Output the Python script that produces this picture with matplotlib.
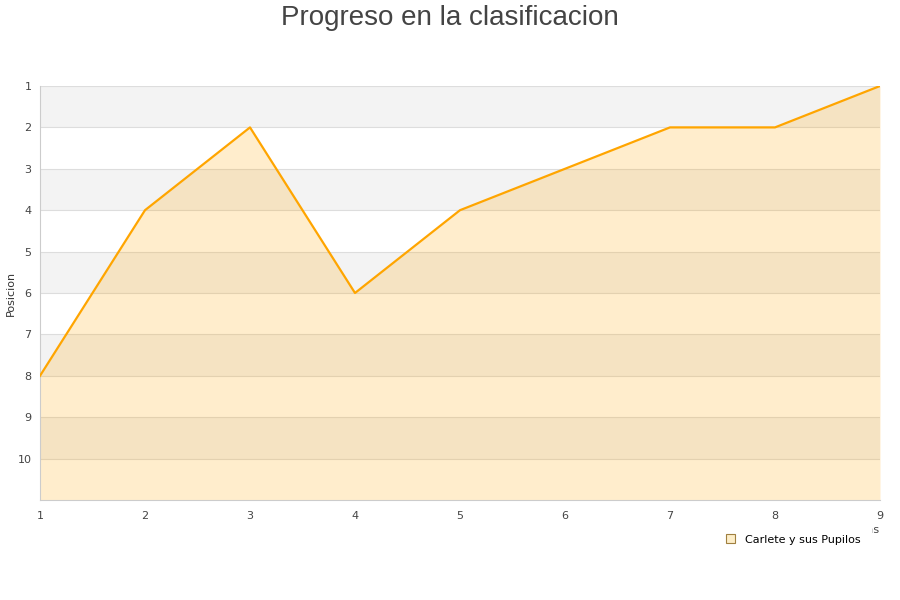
import matplotlib.pyplot as plt
from matplotlib.patches import Patch

jornadas = [1, 2, 3, 4, 5, 6, 7, 8, 9]
posicion = [8, 4, 2, 6, 4, 3, 2, 2, 1]
equipo = 'Carlete y sus Pupilos'

fig = plt.figure(figsize=(9, 6), dpi=100)
ax = fig.add_axes([40/900, 1-500/600, 840/900, 414/600])

# alternating bands
for y0 in range(1, 11, 2):
    ax.axhspan(y0, y0+1, color='#f3f3f3', zorder=0, lw=0)
for y in range(1, 11):
    ax.axhline(y, color='#dddddd', lw=0.8, zorder=1)

ax.fill_between(jornadas, posicion, 11, color='#ffa500', alpha=0.2, lw=0, zorder=2)
ax.plot(jornadas, posicion, color='#ffa500', lw=1.6, zorder=3)

ax.set_xlim(1, 9)
ax.set_ylim(11, 1)
ax.set_yticks(range(1, 11))
ax.set_xticks(jornadas)
ax.tick_params(axis='y', length=0, labelsize=8, colors='#444444', pad=6)
ax.tick_params(axis='x', length=0, labelsize=8, colors='#444444', pad=8)
for s in ['top', 'right']:
    ax.spines[s].set_visible(False)
for s in ['left', 'bottom']:
    ax.spines[s].set_color('#cccccc')

fig.text(11/900, 1-293/600, 'Posicion', rotation=90, ha='center', va='center',
         fontsize=8, color='#333333')
fig.text(0.5, 1-18/600, 'Progreso en la clasificacion', ha='center', va='center',
         fontsize=20, color='#444444', family='Liberation Sans')
fig.text(880/900, 1-530/600, 'Jornadas', ha='right', va='center', fontsize=8,
         color='#444444', zorder=1)

handle = Patch(facecolor='#fdeec9', edgecolor='#a08040', lw=0.8)
leg = fig.legend([handle], [equipo], loc='center right', bbox_to_anchor=(877/900, 1-539.5/600),
                 frameon=True, fontsize=8, handlelength=0.8, handleheight=0.8,
                 borderpad=1.0, handletextpad=0.9, fancybox=False)
leg.set_zorder(5)
leg.get_frame().set_edgecolor('white')
leg.get_frame().set_facecolor('white')
leg.get_frame().set_alpha(1)

fig.savefig('out.png', dpi=100)
